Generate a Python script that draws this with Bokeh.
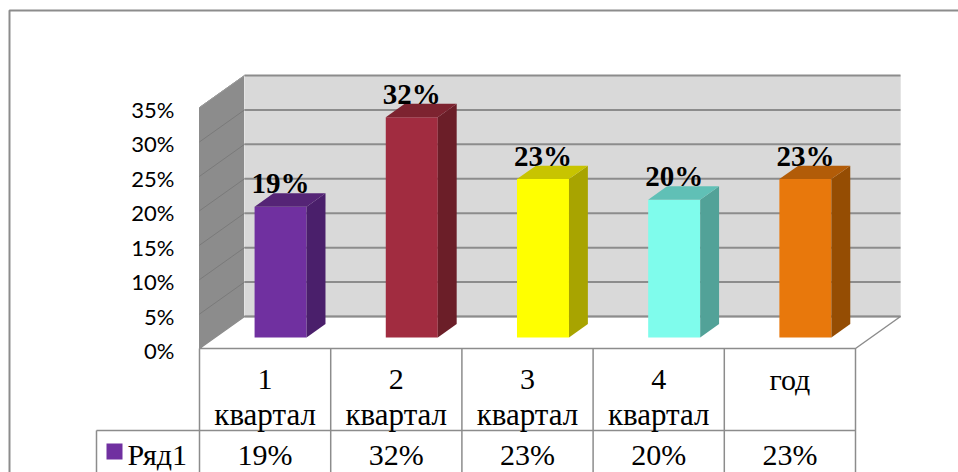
from bokeh.plotting import figure
from bokeh.models import Range1d
from bokeh.embed import file_html
from bokeh.resources import INLINE
from bokeh.core.properties import value

# ---------------- data ----------------
categories = ["1 квартал", "2 квартал", "3 квартал", "4 квартал", "год"]
values = [19, 32, 23, 20, 23]
value_labels = ["19%", "32%", "23%", "20%", "23%"]
series_name = "Ряд1"
y_ticks = [0, 5, 10, 15, 20, 25, 30, 35]
y_tick_labels = ["0%", "5%", "10%", "15%", "20%", "25%", "30%", "35%"]
front_colors = ["#7030a0", "#a12c40", "#ffff00", "#7ffcec", "#e8780c"]
side_colors = ["#4a1f6b", "#6b1e28", "#a8a400", "#52a298", "#954d03"]
top_colors = ["#552476", "#7d2330", "#c8c400", "#60c0b6", "#b25c08"]
legend_color = "#7030a0"

# ---------------- layout ----------------
W, H = 958, 472
PX_CAT = 131.2          # pixels per category
PX_PCT = 6.886          # pixels per percent
ORIGIN_X = 199          # canvas px of x = 0
ORIGIN_Y = 348          # canvas px (from top) of y = 0
N = len(categories)
YMAX = y_ticks[-1]
DX = 45 / PX_CAT        # depth offset (category units)
DY = 32 / PX_PCT        # depth offset (percent units)
F0 = 0.344              # depth of bar front face
FB = 0.42               # bar depth
HW = 26 / PX_CAT        # half bar width


def px_y(d):  # pixel distance -> percent units
    return d / PX_PCT


def px_x(d):
    return d / PX_CAT


p = figure(width=W, height=H, output_backend="svg", toolbar_location=None,
           x_range=Range1d(-ORIGIN_X / PX_CAT, (W - ORIGIN_X) / PX_CAT),
           y_range=Range1d((ORIGIN_Y - H) / PX_PCT, ORIGIN_Y / PX_PCT),
           min_border=0, outline_line_color=None)
p.axis.visible = False
p.grid.visible = False
p.background_fill_color = "white"
p.border_fill_color = "white"

GRAY = "#8c8c8c"

# outer chart border (left and top)
xb = p.x_range.start + px_x(9)
yb = p.y_range.end - px_y(10)
p.line([xb, xb, p.x_range.end + 1], [p.y_range.start - 1, yb, yb], line_color=GRAY, line_width=2)

# left wall
p.patch([0, DX, DX, 0], [0, DY, YMAX + DY, YMAX], fill_color=GRAY, line_color=GRAY, line_width=1)
# back wall
p.patch([DX, N + DX, N + DX, DX], [DY, DY, YMAX + DY, YMAX + DY], fill_color="#d9d9d9",
        line_color="#e4e4e4", line_width=1)
# floor
p.patch([0, N, N + DX, DX], [0, 0, DY, DY], fill_color="white", line_color=GRAY, line_width=1.5)

# gridlines on back wall and left wall
p.segment(x0=[DX] * len(y_ticks), y0=[t + DY for t in y_ticks],
          x1=[N + DX] * len(y_ticks), y1=[t + DY for t in y_ticks],
          line_color=GRAY, line_width=2)
p.segment(x0=[0] * (len(y_ticks) - 2), y0=y_ticks[1:-1],
          x1=[DX] * (len(y_ticks) - 2), y1=[t + DY for t in y_ticks[1:-1]],
          line_color="#7a7a7a", line_width=1)
p.line([0, DX], [YMAX, YMAX + DY], line_color="#9a9a9a", line_width=1)

# bars
xl = [i + 0.5 - HW + F0 * DX for i in range(N)]
xr = [i + 0.5 + HW + F0 * DX for i in range(N)]
yb0 = F0 * DY
yt = [v + yb0 for v in values]
bdx, bdy = FB * DX, FB * DY

p.quad(left=xl, right=xr, bottom=[yb0] * N, top=yt, fill_color=front_colors, line_color=None)
side_xs = [[r, r + bdx, r + bdx, r] for r in xr]
side_ys = [[yb0, yb0 + bdy, t + bdy, t] for t in yt]
p.patches(side_xs, side_ys, fill_color=side_colors, line_color=None)
top_xs = [[l, r, r + bdx, l + bdx] for l, r in zip(xl, xr)]
top_ys = [[t, t, t + bdy, t + bdy] for t in yt]
p.patches(top_xs, top_ys, fill_color=top_colors, line_color=None)

# data labels
p.text(x=[(l + r) / 2 for l, r in zip(xl, xr)], y=[t + bdy for t in yt], text=value_labels,
       text_font=value("Liberation Serif"), text_font_style="bold", text_font_size="29px",
       text_align="center", text_baseline="alphabetic", y_offset=-10, text_color="black")

# y axis labels
p.text(x=[-px_x(25)] * len(y_ticks), y=y_ticks, text=y_tick_labels,
       text_font=value("Lato"), text_font_size="22px", text_align="right",
       text_baseline="middle", y_offset=2, text_color="black")

# data table
hdr_bot = -px_y(82)
tbl_bot = p.y_range.start - 2
row_left = -px_x(103)
p.segment(x0=list(range(N + 1)), y0=[0] * (N + 1), x1=list(range(N + 1)), y1=[tbl_bot] * (N + 1),
          line_color=GRAY, line_width=1.5)
p.segment(x0=[row_left, row_left], y0=[hdr_bot, hdr_bot], x1=[row_left, N], y1=[tbl_bot, hdr_bot],
          line_color=GRAY, line_width=1.5)

line1 = [c.split(" ", 1)[0] for c in categories]
line2 = [c.split(" ", 1)[1] if " " in c else "" for c in categories]
cx = [i + 0.5 for i in range(N)]
p.text(x=cx, y=[-px_y(31)] * N, text=line1, text_font=value("Liberation Serif"),
       text_font_size="30px", text_align="center", text_baseline="alphabetic", text_color="black")
p.text(x=cx, y=[-px_y(66)] * N, text=line2, text_font=value("Liberation Serif"),
       text_font_size="31px", text_align="center", text_baseline="alphabetic", text_color="black")
p.text(x=cx, y=[-px_y(106)] * N, text=value_labels, text_font=value("Liberation Serif"),
       text_font_size="30px", text_align="center", text_baseline="alphabetic", text_color="black")

# legend key in table
p.scatter(x=[-px_x(85)], y=[-px_y(103)], marker="square", size=16,
          fill_color=legend_color, line_color=None)
p.text(x=[-px_x(72)], y=[-px_y(106)], text=[series_name], text_font=value("Liberation Serif"),
       text_font_size="30px", text_align="left", text_baseline="alphabetic", text_color="black")

open("out.html", "w").write(file_html(p, INLINE))
